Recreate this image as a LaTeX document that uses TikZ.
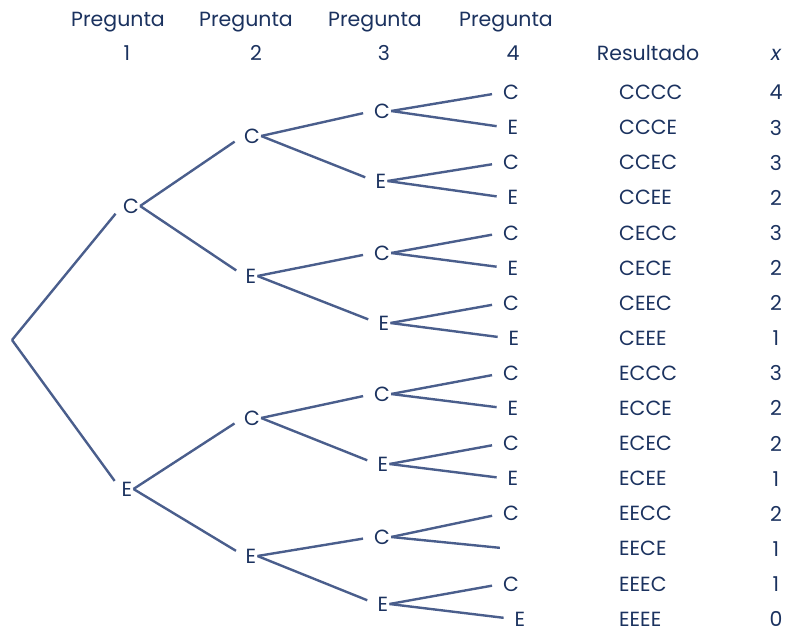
\documentclass[tikz,border=0pt]{standalone}
\usepackage{fontspec}
\setmainfont{Poppins}
\definecolor{tinta}{HTML}{1B325F}
\definecolor{linea}{HTML}{4A5E8C}

\begin{document}
\begin{tikzpicture}[x=1pt,y=-1pt,
		letra/.style={text=tinta,inner sep=1pt,font=\fontsize{20.5}{24}\selectfont},
		rama/.style={draw=linea,line width=2.4pt,shorten >=10pt}]
		\useasboundingbox (0,0) rectangle (787,634);
		%draw headers
		\foreach \n/\x/\xn in {1/118/127, 2/246/256, 3/375/384, 4/506/513}{
			\node[letra,anchor=base] (preg\n) at (\x,27) {Pregunta};
			\node[letra,anchor=base] (num\n) at (\xn,61) {\n};
		}
		\node[letra,anchor=base] (resultado) at (648,61) {Resultado};
		\node[letra,anchor=base] (equis) at (776,61) {\itshape x};
		%draw tree nodes
		\coordinate (r) at (12,340);
		\node[letra] (c) at (131,206) {C};
		\node[letra] (e) at (127,489) {E};
		\node[letra] (cc) at (252,136) {C};
		\node[letra] (ce) at (251,276) {E};
		\node[letra] (ec) at (252,418) {C};
		\node[letra] (ee) at (251,556) {E};
		\node[letra] (ccc) at (382,111) {C};
		\node[letra] (cce) at (381,181) {E};
		\node[letra] (cec) at (382,253) {C};
		\node[letra] (cee) at (384,323) {E};
		\node[letra] (ecc) at (382,394) {C};
		\node[letra] (ece) at (383,464) {E};
		\node[letra] (eec) at (382,537) {C};
		\node[letra] (eee) at (383,604) {E};
		%draw leaves, results and x
		\foreach \hoja/\t/\x/\res/\v [count=\i from 0] in {
			cccc/C/511/CCCC/4, ccce/E/513/CCCE/3, ccec/C/511/CCEC/3, ccee/E/513/CCEE/2,
			cecc/C/511/CECC/3, cece/E/513/CECE/2, ceec/C/511/CEEC/2, ceee/E/514/CEEE/1,
			eccc/C/511/ECCC/3, ecce/E/513/ECCE/2, ecec/C/511/ECEC/2, ecee/E/513/ECEE/1,
			eecc/C/511/EECC/2, eece//511/EECE/1, eeec/C/511/EEEC/1, eeee/E/520/EEEE/0}{
			\node[letra] (\hoja) at (\x,92.5+35.1*\i) {\t};
			\node[letra,anchor=west] (res\i) at (618,92.5+35.1*\i) {\res};
			\node[letra] (x\i) at (776,92.5+35.1*\i) {\v};
		}
		%draw branches
		\draw[rama] (r) -- (c.west);
		\draw[rama] (r) -- (e.west);
		\foreach \p in {c,e,cc,ce,ec,ee,ccc,cce,cec,cee,ecc,ece,eec,eee}{
			\draw[rama] (\p.east) -- (\p c.west);
			\draw[rama] (\p.east) -- (\p e.west);
		}
\end{tikzpicture}
\end{document}
